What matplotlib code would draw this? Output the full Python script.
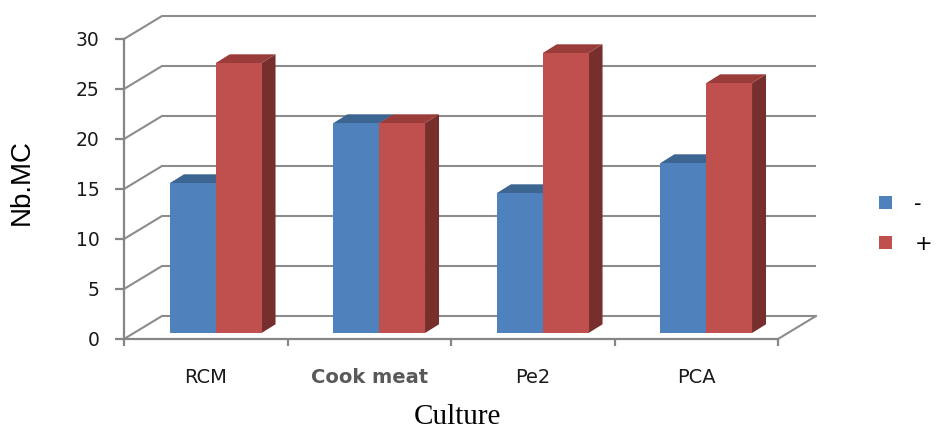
import matplotlib
matplotlib.use("Agg")
import matplotlib.pyplot as plt
from matplotlib.patches import Polygon

# Data
cultures = ["RCM", "Cook meat", "Pe2", "PCA"]
series_names = ["-", "+"]
minus_vals = [15, 21, 14, 17]
plus_vals = [27, 21, 28, 25]
y_ticks = [0, 5, 10, 15, 20, 25, 30]

# Colours (front, top, side) for each series
face_cols = ["#4F81BD", "#C0504D"]
top_cols = ["#3C6592", "#9A3D3A"]
side_cols = ["#35597F", "#772F2D"]
grid_col = "#8C8C8C"

# Pseudo-3D geometry, in data units
WX, WY = 0.2324, 2.3      # back-wall offset
PX, PY = 0.0612, 0.6      # offset of the bars' front plane
DX, DY = 0.0856, 0.87     # bar depth
BW = 0.28                 # bar width (per series)

W, H = 938, 433
fig = plt.figure(figsize=(W / 100, H / 100), dpi=100)
x_unit = 163.5  # pixels per category
y_unit = 10.0   # pixels per value unit
xmax, ymax = 4.25, 32.5
ax = fig.add_axes([124 / W, 94 / H, xmax * x_unit / W, ymax * y_unit / H])
ax.set_xlim(0, xmax)
ax.set_ylim(0, ymax)
ax.patch.set_visible(False)

# Back wall gridlines with their diagonal returns on the left wall
for v in y_ticks:
    ax.plot([0, WX, 4 + WX], [v, v + WY, v + WY], color=grid_col, lw=1.5,
            zorder=1, clip_on=False, solid_capstyle="butt")
# Right edge of the floor
ax.plot([4, 4 + WX], [0, WY], color=grid_col, lw=1.5, zorder=1, clip_on=False)

# Bars
values = [minus_vals, plus_vals]
for i in range(len(cultures)):
    for s in range(2):
        v = values[s][i]
        x0 = i + 0.5 - BW + s * BW + PX
        side = Polygon([(x0 + BW, PY), (x0 + BW + DX, PY + DY),
                        (x0 + BW + DX, PY + v + DY), (x0 + BW, PY + v)],
                       closed=True, facecolor=side_cols[s], edgecolor="none",
                       zorder=3 + i * 2 + s)
        top = Polygon([(x0, PY + v), (x0 + BW, PY + v),
                       (x0 + BW + DX, PY + v + DY), (x0 + DX, PY + v + DY)],
                      closed=True, facecolor=top_cols[s], edgecolor="none",
                      zorder=3 + i * 2 + s)
        ax.add_patch(side)
        ax.add_patch(top)
        ax.bar(x0, v, width=BW, bottom=PY, align="edge", color=face_cols[s],
               edgecolor="none", zorder=3 + i * 2 + s + 0.5)

# Front axes
for sp in ["top", "right"]:
    ax.spines[sp].set_visible(False)
for sp in ["left", "bottom"]:
    ax.spines[sp].set_color("#868686")
    ax.spines[sp].set_linewidth(1.6)
    ax.spines[sp].set_zorder(2)
ax.spines["left"].set_bounds(0, 30)
ax.spines["bottom"].set_bounds(0, 4)

ax.set_yticks(y_ticks)
ax.set_yticklabels([str(t) for t in y_ticks])
ax.tick_params(axis="y", direction="out", length=6.5, width=1.6, color="#868686",
               pad=11, labelsize=13.5, labelcolor="#1a1a1a")

ax.set_xticks([0, 1, 2, 3, 4])
ax.set_xticklabels([])
ax.set_xticks([0.5, 1.5, 2.5, 3.5], minor=True)
ax.set_xticklabels(cultures, minor=True)
ax.tick_params(axis="x", which="major", direction="out", length=5, width=1.6,
               color="#868686")
ax.tick_params(axis="x", which="minor", length=0, pad=21, labelsize=14,
               labelcolor="#1a1a1a")
for lab in ax.get_xticklabels(minor=True):
    if lab.get_text() == "Cook meat":
        lab.set_fontweight("bold")
        lab.set_color("#595959")

# Axis titles
fig.text(22 / W, 1 - 182 / H, "Nb.MC", rotation=90, ha="center", va="center",
         fontsize=20, family="Liberation Sans", color="black")
fig.text(457 / W, 1 - 417 / H, "Culture", ha="center", va="center",
         fontsize=21, family="Liberation Serif", color="black")

# Legend
handles = [plt.Rectangle((0, 0), 1, 1, facecolor=c, edgecolor="none") for c in face_cols]
fig.legend(handles, series_names, loc="center left",
           bbox_to_anchor=(879 / W, 1 - 224 / H), frameon=False, fontsize=15,
           handlelength=0.6, handleheight=0.55, handletextpad=1.1,
           labelspacing=0.95, borderpad=0, borderaxespad=0)

fig.savefig("out.png", dpi=100)
